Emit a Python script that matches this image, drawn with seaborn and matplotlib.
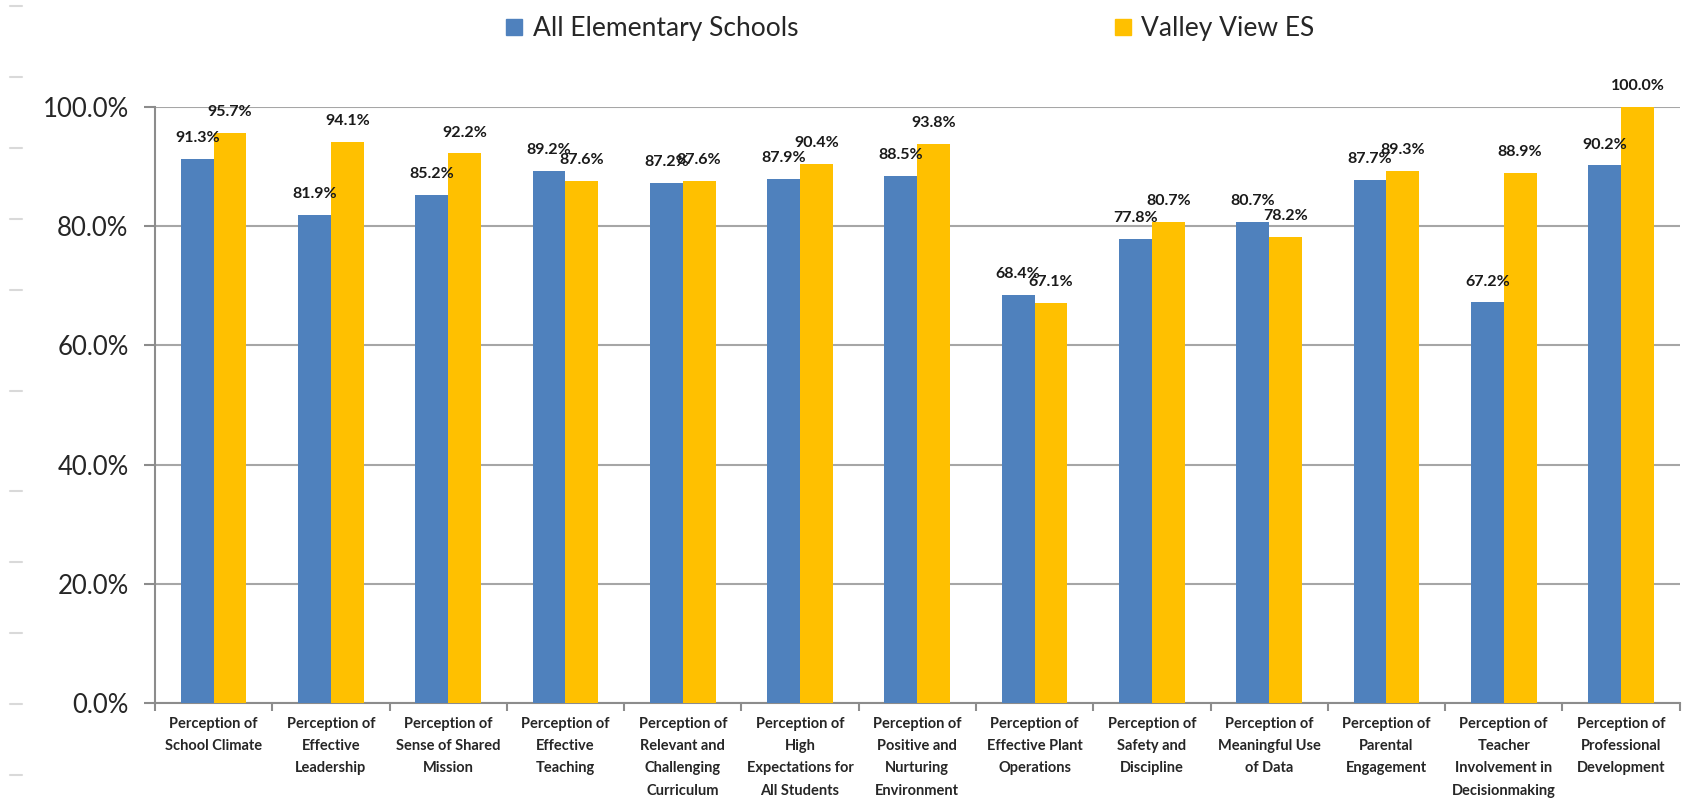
import pandas as pd
import numpy as np
import seaborn as sns
import matplotlib.pyplot as plt
from matplotlib.lines import Line2D
from matplotlib.ticker import FixedLocator, PercentFormatter

# Categories and values
categories = [
    "Perception of\nSchool Climate",
    "Perception of\nEffective\nLeadership",
    "Perception of\nSense of Shared\nMission",
    "Perception of\nEffective\nTeaching",
    "Perception of\nRelevant and\nChallenging\nCurriculum",
    "Perception of\nHigh\nExpectations for\nAll Students",
    "Perception of\nPositive and\nNurturing\nEnvironment",
    "Perception of\nEffective Plant\nOperations",
    "Perception of\nSafety and\nDiscipline",
    "Perception of\nMeaningful Use\nof Data",
    "Perception of\nParental\nEngagement",
    "Perception of\nTeacher\nInvolvement in\nDecisionmaking",
    "Perception of\nProfessional\nDevelopment",
]
all_es = [91.3, 81.9, 85.2, 89.2, 87.2, 87.9, 88.5, 68.4, 77.8, 80.7, 87.7, 67.2, 90.2]
valley_view = [95.7, 94.1, 92.2, 87.6, 87.6, 90.4, 93.8, 67.1, 80.7, 78.2, 89.3, 88.9, 100.0]
series_names = ["All Elementary Schools", "Valley View ES"]
y_ticks = [0, 20, 40, 60, 80, 100]

df = pd.DataFrame({
    "category": categories * 2,
    "value": all_es + valley_view,
    "series": [series_names[0]] * len(categories) + [series_names[1]] * len(categories),
})

sns.set_style("white")
plt.rcParams["font.family"] = ["Lato", "DejaVu Sans"]

fig = plt.figure(figsize=(16.83, 8.02), dpi=100)
ax = fig.add_axes([0.0921, 0.1234, 0.9059, 0.7432])

colors = {"All Elementary Schools": "#4F81BD", "Valley View ES": "#FFC000"}
sns.barplot(data=df, x="category", y="value", hue="series", palette=colors,
            width=0.56, gap=0, saturation=1, errorbar=None, linewidth=0,
            ax=ax, zorder=3)

# data labels above every bar
for cont in ax.containers:
    ax.bar_label(cont, fmt="%.1f%%", padding=10, fontsize=11.5, fontweight="bold",
                 color="#1a1a1a", zorder=5)

ax.set_ylim(0, 100)
ax.set_xlim(-0.5, len(categories) - 0.5)
ax.yaxis.set_major_locator(FixedLocator(y_ticks))
ax.yaxis.set_major_formatter(PercentFormatter(decimals=1))
ax.grid(axis="y", color="#a6a6a6", linewidth=1.5, zorder=0)
ax.set_xlabel("")
ax.set_ylabel("")

for side in ["top", "right"]:
    ax.spines[side].set_visible(False)
for side in ["left", "bottom"]:
    ax.spines[side].set_color("#8c8c8c")
    ax.spines[side].set_linewidth(1.5)

ax.tick_params(axis="y", length=8, width=1.5, color="#8c8c8c", labelsize=18.5,
               labelcolor="#262626", pad=11, left=True)
ax.tick_params(axis="x", which="major", length=0, pad=10, labelsize=10.5)
for lab in ax.get_xticklabels():
    lab.set_fontweight("bold")
    lab.set_linespacing(1.75)
    lab.set_verticalalignment("top")
ax.xaxis.set_minor_locator(FixedLocator(np.arange(-0.5, len(categories), 1.0)))
ax.tick_params(axis="x", which="minor", length=6, width=1.5, color="#8c8c8c", bottom=True)

# legend across the top
ax.legend_.remove()
handles = [plt.Rectangle((0, 0), 1, 1, color=colors[s]) for s in series_names]
fig.legend(handles, series_names, loc="center", bbox_to_anchor=(0.541, 0.964),
           ncol=2, frameon=False, fontsize=19, handlelength=0.6, handleheight=0.6,
           handletextpad=0.4, columnspacing=12.0)

# faint dashes along the left margin
for yp in [6, 77, 148, 219, 290, 391, 491, 562, 633, 704, 775]:
    yf = 1 - yp / 802
    fig.add_artist(Line2D([10 / 1683, 22 / 1683], [yf, yf], color="#d9d9d9", linewidth=1.5))

fig.savefig("out.png", dpi=100)
